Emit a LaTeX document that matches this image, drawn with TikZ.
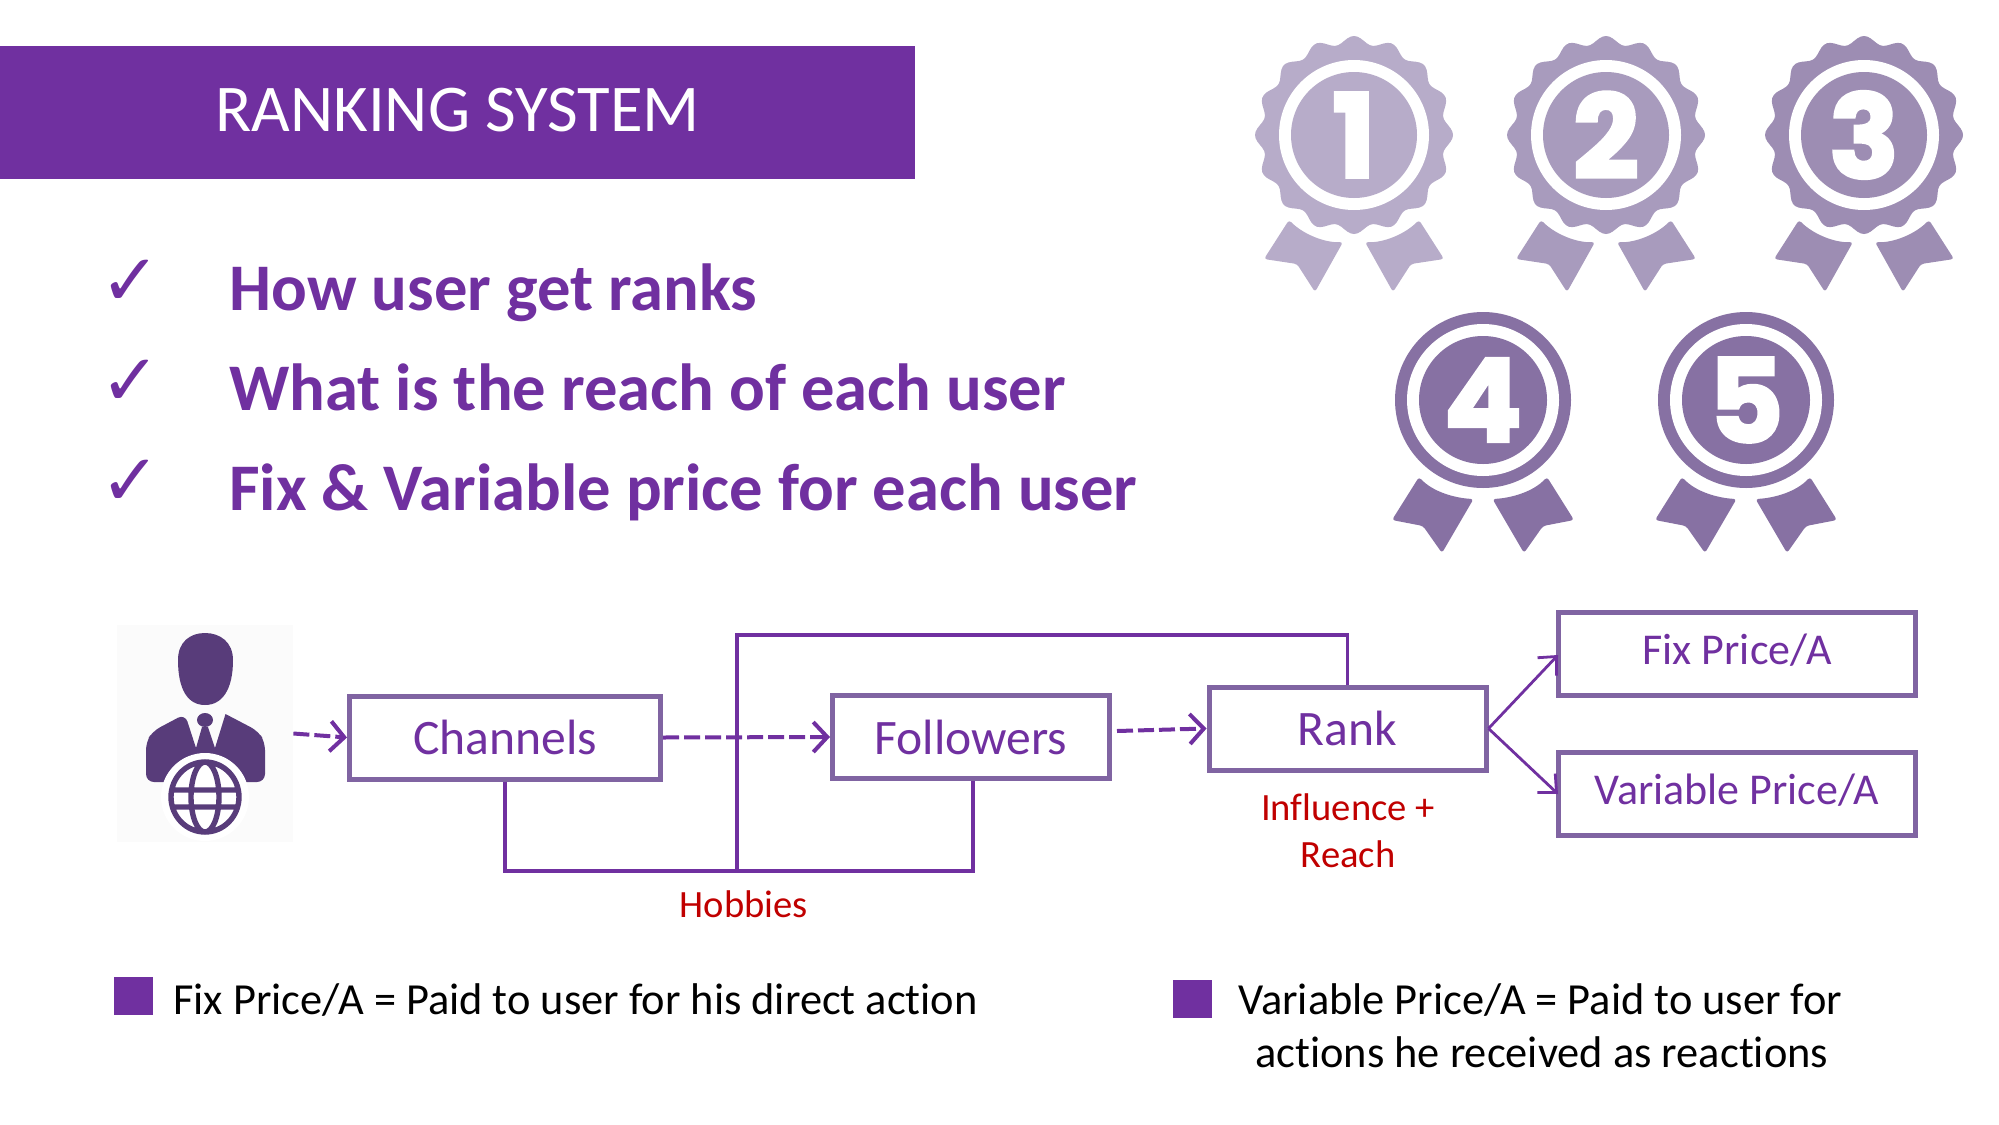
\documentclass[tikz,border=0pt]{standalone}
\usepackage{fontspec}
\setmainfont{Carlito}[Ligatures=NoCommon]
\newfontfamily\medalfont[FakeBold=2.5]{Poppins Bold}
\newfontfamily\checkfont{DejaVu Sans}
\usetikzlibrary{arrows.meta,positioning}
\definecolor{mainpurple}{RGB}{112,48,160}
\definecolor{boxpurple}{RGB}{128,100,162}
\definecolor{personpurple}{RGB}{88,60,122}
\definecolor{notered}{RGB}{192,0,0}
\definecolor{medalone}{RGB}{183,172,201}
\definecolor{medaltwo}{RGB}{168,155,189}
\definecolor{medalthree}{RGB}{157,141,179}
\definecolor{medalfour}{RGB}{135,113,163}
\tikzset{
	pricebox/.style={draw=boxpurple,line width=2.5pt,text=mainpurple,font=\fontsize{24.8}{28}\selectfont,inner sep=0pt,minimum height=41.5pt},
	valuebox/.style={pricebox,font=\fontsize{22}{26}\selectfont,text height=16pt,text depth=6pt},
	solidlink/.style={draw=mainpurple,line width=1.6pt},
	dashlink/.style={draw=mainpurple,line width=2pt,dash pattern=on 8pt off 2.5pt,-{Straight Barb[length=7pt,width=15pt,line width=2pt]}},
	thinlink/.style={draw=mainpurple,line width=1.4pt,-{Straight Barb[length=7pt,width=13pt,line width=1.4pt]}},
	bullettext/.style={text=mainpurple,anchor=base west,inner sep=0pt,font=\fontsize{33.3}{38}\selectfont\bfseries},
	checkmark/.style={text=mainpurple,anchor=center,inner sep=0pt,font=\fontsize{36}{40}\selectfont\checkfont},
	rednote/.style={text=notered,inner sep=0pt,font=\fontsize{19.3}{23}\selectfont},
	legendtext/.style={text=black,inner sep=0pt,anchor=base west,font=\fontsize{22.2}{26}\selectfont},
	legendbox/.style={fill=mainpurple,inner sep=0pt,minimum width=19.5pt,minimum height=19pt},
	medaldigit/.style={text=white,inner sep=0pt,font=\fontsize{58}{60}\selectfont\medalfont}
}
\begin{document}
\begin{tikzpicture}[x=.5pt,y=-.5pt]
	\useasboundingbox (0,0) rectangle (1999,1125);
	% banner
	\node[fill=mainpurple,text=white,inner sep=0pt,minimum width=457.5pt,minimum height=66.5pt,text height=21pt,text depth=2.5pt,font=\fontsize{33.4}{38}\selectfont] (banner) at (457.5,112.5) {RANKING SYSTEM};
	% list
	\node[checkmark] (checka) at (131,283) {✓};
	\node[checkmark] (checkb) at (131,383) {✓};
	\node[checkmark] (checkc) at (131,483) {✓};
	\node[bullettext] (how) at (229,310.5) {How user get ranks};
	\node[bullettext] (reach) at (229,410.5) {What is the reach of each user};
	\node[bullettext] (price) at (229,510.5) {Fix \& Variable price for each user};
	% medals, top row
	\foreach \mx/\mc/\md/\mn in {1354/medalone/1/medala,1606/medaltwo/2/medalb,1864/medalthree/3/medalc} {
		\begin{scope}[shift={(\mx,135)}]
			\foreach \s in {1,-1} \fill[\mc,rounded corners=1.5pt,xscale=\s] (-11,107) .. controls (-28,108) and (-50,100) .. (-65,85) -- (-90,124) -- (-57,129) -- (-39,157) -- cycle;
			\fill[\mc] plot[domain=0:360,samples=181,smooth] ({(95+4*cos(16*\x))*cos(\x)},{(95+4*cos(16*\x))*sin(\x)}) -- cycle;
			\fill[white] (0,0) circle[radius=75];
			\fill[\mc] (0,0) circle[radius=63];
			\node[medaldigit] (\mn) at (0,0) {\md};
		\end{scope}
	}
	% medals, lower row
	\foreach \mx/\md/\mn in {1483/4/medald,1746/5/medale} {
		\begin{scope}[shift={(\mx,400)}]
			\foreach \s in {1,-1} \fill[medalfour,rounded corners=1.5pt,xscale=\s] (-9.5,99) .. controls (-28,98) and (-50,92) .. (-64,77) -- (-91,120) -- (-60,126) -- (-41,153) -- cycle;
			\fill[medalfour] (0,0) circle[radius=88];
			\fill[white] (0,0) circle[radius=76];
			\fill[medalfour] (0,0) circle[radius=64];
			\node[medaldigit] (\mn) at (0,0) {\md};
		\end{scope}
	}
	% person
	\node[fill=black!1.5,inner sep=0pt,minimum width=88pt,minimum height=108.5pt] (person) at (205,733.5) {};
	\fill[personpurple] (178,660) .. controls (178,642) and (190,633) .. (205,633) .. controls (220,633) and (233,642) .. (233,660) .. controls (233,690) and (222,705) .. (205,705) .. controls (188,705) and (178,690) .. (178,660) -- cycle;
	\fill[personpurple,rounded corners=4pt] (146,782) -- (146,742) -- (153,731) -- (185,714) [sharp corners] -- (196,748) -- (215,748) -- (225.5,714) [rounded corners=4pt] -- (258,731) -- (265,742) -- (265,782) -- cycle;
	\fill[personpurple] (205,720) ellipse[x radius=8,y radius=7] (202,727) -- (208,727) -- (215,748) -- (196,748) -- cycle;
	\fill[white] (205,797) circle[radius=44];
	\draw[personpurple,line width=2.7pt] (205,797) ellipse[x radius=34,y radius=35] (205,797) ellipse[x radius=14,y radius=35] (173,790) -- (237,790) (173,807) -- (237,807);
	% boxes
	\node[pricebox,minimum width=155.5pt] (channels) at (505,737.5) {Channels};
	\node[pricebox,minimum width=138.5pt] (followers) at (971,737) {Followers};
	\node[pricebox,minimum width=138.5pt] (rank) at (1347.5,728.5) {Rank};
	\node[valuebox,minimum width=178.5pt] (fixprice) at (1737,654) {Fix Price/A};
	\node[valuebox,minimum width=178.5pt] (varprice) at (1737,794) {Variable Price/A};
	% connectors
	\coordinate (lowjoin) at (737,871);
	\coordinate (topjoin) at (737,635);
	\coordinate (followersout) at (1117,731);
	\coordinate (fixin) at (1558,655);
	\coordinate (varin) at (1558,794);
	\draw[dashlink] (person.east) -- (channels.west);
	\draw[solidlink] (channels.south) |- (lowjoin) -| ([xshift=1pt]followers.south);
	\draw[solidlink] (lowjoin) -- (topjoin) -| (rank.north);
	\draw[dashlink] (channels.east) -- (followers.west);
	\draw[dashlink] (followersout) -- (rank.west);
	\draw[thinlink] (rank.east) -- (fixin);
	\draw[thinlink] (rank.east) -- (varin);
	% notes
	\node[rednote] (hobbies) at (744,904) {Hobbies};
	\node[rednote] (influence) at (1348,807) {Influence +};
	\node[rednote] (reachnote) at (1348,854) {Reach};
	% legend
	\node[legendbox] (legenda) at (133.5,996) {};
	\node[legendbox] (legendb) at (1192.5,999) {};
	\node[legendtext] (fixtext) at (173,1014.5) {Fix Price/A = Paid to user for his direct action};
	\node[legendtext] (vartexta) at (1238,1014.5) {Variable Price/A = Paid to user for};
	\node[legendtext] (vartextb) at (1255,1067.5) {actions he received as reactions};
\end{tikzpicture}
\end{document}
